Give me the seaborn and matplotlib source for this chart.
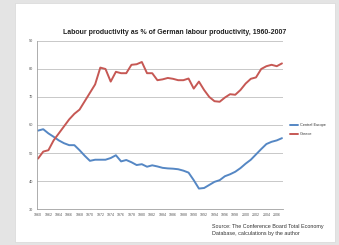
import numpy as np
import pandas as pd
import matplotlib
matplotlib.use("Agg")
import matplotlib.pyplot as plt
from matplotlib.patches import Rectangle
import seaborn as sns

# Data (% of German labour productivity)
years = list(range(1960, 2008))
central_europe = [58.0, 58.5, 57.0, 55.8, 54.5, 53.5, 52.8, 52.8, 51.0, 49.0,
                  47.2, 47.6, 47.6, 47.6, 48.2, 49.2, 47.0, 47.5, 46.7, 45.7,
                  46.0, 45.1, 45.6, 45.2, 44.7, 44.5, 44.4, 44.2, 43.7, 43.0,
                  40.3, 37.3, 37.5, 38.6, 39.7, 40.3, 41.7, 42.4, 43.3, 44.6,
                  46.2, 47.6, 49.5, 51.4, 53.2, 54.0, 54.5, 55.3]
greece = [48.0, 50.5, 51.0, 54.5, 57.0, 59.5, 62.0, 64.0, 65.5, 68.5,
          71.5, 74.5, 80.5, 80.0, 75.5, 79.0, 78.5, 78.5, 81.5, 81.7,
          82.5, 78.5, 78.5, 76.0, 76.3, 76.8, 76.5, 76.0, 76.0, 76.6,
          73.0, 75.5, 72.5, 70.0, 68.5, 68.3, 69.8, 71.0, 70.8, 72.5,
          74.8, 76.5, 77.0, 80.0, 81.0, 81.5, 81.0, 82.0]
series_names = ["Central Europe", "Greece"]
y_ticks = [30, 40, 50, 60, 70, 80, 90]
x_ticks = list(range(1960, 2007, 2))

df = pd.DataFrame({
    "year": years * 2,
    "value": central_europe + greece,
    "series": [series_names[0]] * len(years) + [series_names[1]] * len(years),
})

sns.set_style("white")
plt.rcParams["font.family"] = ["Liberation Sans", "DejaVu Sans"]

fig = plt.figure(figsize=(3.39, 2.45), dpi=100)
fig.patch.set_facecolor("#e4e4e4")
# white "slide" panel
fig.patches.append(Rectangle((15 / 339, 3 / 245), 320 / 339, 239 / 245,
                             transform=fig.transFigure, facecolor="white",
                             edgecolor="#d8d8d8", linewidth=0.5, zorder=-10))

ax = fig.add_axes([37 / 339, 36 / 245, 246 / 339, 168 / 245])
ax.set_facecolor("none")

palette = {"Central Europe": "#5587c4", "Greece": "#c65854"}
sns.lineplot(data=df, x="year", y="value", hue="series", palette=palette,
             linewidth=1.4, ax=ax, legend=False)

ax.set_xlim(1959.8, 2007.2)
ax.set_ylim(30, 90)
ax.set_yticks(y_ticks)
ax.set_xticks(x_ticks)
ax.set_xticks(years, minor=True)
ax.set_xticklabels([str(y) for y in x_ticks], fontsize=2.6, color="#555555")
ax.set_yticklabels([str(v) for v in y_ticks], fontsize=2.8, color="#555555")
ax.tick_params(axis="both", which="both", length=1.5, width=0.4, color="#999999", pad=1.5)
ax.tick_params(axis="x", which="both", direction="out")
ax.grid(axis="y", color="#c8c8c8", linewidth=0.7)
ax.set_axisbelow(True)
for side in ["top", "right"]:
    ax.spines[side].set_visible(False)
for side in ["left", "bottom"]:
    ax.spines[side].set_color("#a0a0a0")
    ax.spines[side].set_linewidth(0.6)
ax.set_xlabel("")
ax.set_ylabel("")

fig.text(175 / 339, 1 - 32 / 245,
         "Labour productivity as % of German labour productivity, 1960-2007",
         ha="center", va="center", fontsize=5.0, fontweight="bold", color="#222222")

# legend
for i, name in enumerate(series_names):
    yy = 1 - (125 + 9 * i) / 245
    fig.add_artist(plt.Line2D([290 / 339, 298 / 339], [yy, yy], transform=fig.transFigure,
                              color=palette[name], linewidth=1.4))
    fig.text(300 / 339, yy, name, ha="left", va="center", fontsize=2.8, color="#333333")

fig.text(212 / 339, 1 - 230 / 245,
         "Source: The Conference Board Total Economy\nDatabase, calculations by the author",
         ha="left", va="center", fontsize=3.9, color="#333333", linespacing=1.3)

fig.savefig("out.png", dpi=100, facecolor=fig.get_facecolor())
